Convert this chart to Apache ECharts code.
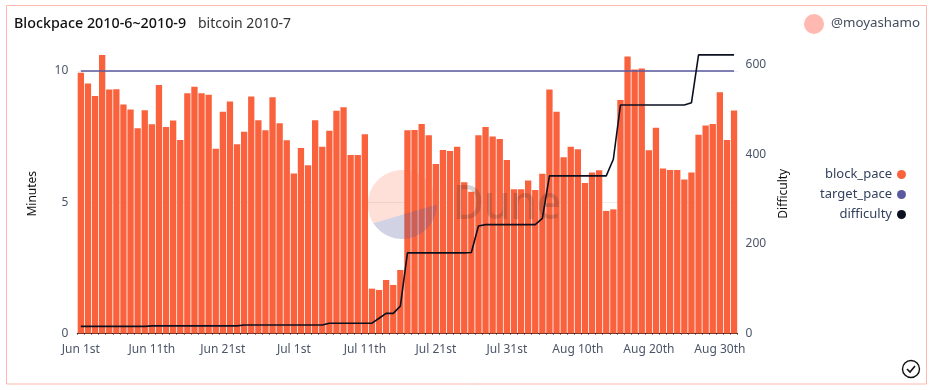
<!DOCTYPE html>
<html><head><meta charset="utf-8">
<style>html,body{margin:0;padding:0;background:#fff}#c{width:934px;height:390px}</style>
<script src="https://cdn.jsdelivr.net/npm/echarts@6/dist/echarts.min.js"></script>
</head><body><div id="c"></div>
<script>
const categories = [
"Jun 1st","Jun 2nd","Jun 3rd","Jun 4th","Jun 5th","Jun 6th","Jun 7th","Jun 8th","Jun 9th","Jun 10th",
"Jun 11th","Jun 12th","Jun 13th","Jun 14th","Jun 15th","Jun 16th","Jun 17th","Jun 18th","Jun 19th","Jun 20th",
"Jun 21st","Jun 22nd","Jun 23rd","Jun 24th","Jun 25th","Jun 26th","Jun 27th","Jun 28th","Jun 29th","Jun 30th",
"Jul 1st","Jul 2nd","Jul 3rd","Jul 4th","Jul 5th","Jul 6th","Jul 7th","Jul 8th","Jul 9th","Jul 10th",
"Jul 11th","Jul 12th","Jul 13th","Jul 14th","Jul 15th","Jul 16th","Jul 17th","Jul 18th","Jul 19th","Jul 20th",
"Jul 21st","Jul 22nd","Jul 23rd","Jul 24th","Jul 25th","Jul 26th","Jul 27th","Jul 28th","Jul 29th","Jul 30th",
"Jul 31st","Aug 1st","Aug 2nd","Aug 3rd","Aug 4th","Aug 5th","Aug 6th","Aug 7th","Aug 8th","Aug 9th",
"Aug 10th","Aug 11th","Aug 12th","Aug 13th","Aug 14th","Aug 15th","Aug 16th","Aug 17th","Aug 18th","Aug 19th",
"Aug 20th","Aug 21st","Aug 22nd","Aug 23rd","Aug 24th","Aug 25th","Aug 26th","Aug 27th","Aug 28th","Aug 29th",
"Aug 30th","Aug 31st","Sep 1st"];
const blockPace = [
9.94,9.53,9.05,10.61,9.30,9.31,8.73,8.54,7.82,8.51,
7.97,9.47,7.87,8.12,7.37,9.15,9.40,9.15,9.10,7.04,
8.45,8.84,7.21,7.69,9.03,8.13,7.74,9.00,8.01,7.36,
6.10,7.07,6.41,8.13,7.12,7.73,8.49,8.62,6.80,6.80,
7.59,1.71,1.66,2.04,1.85,2.42,7.74,7.75,7.98,7.55,
6.46,6.99,6.95,7.12,5.76,5.40,7.55,7.87,7.51,7.41,
6.61,5.50,5.50,5.83,5.47,6.09,9.30,8.45,6.72,7.12,
7.02,5.73,6.13,6.22,4.67,4.73,8.90,10.55,10.06,10.10,
6.98,7.84,6.29,6.23,6.23,5.87,6.13,7.57,7.93,7.98,
9.19,7.37,8.50];
const targetPace = [
10,10,10,10,10,10,10,10,10,10,
10,10,10,10,10,10,10,10,10,10,
10,10,10,10,10,10,10,10,10,10,
10,10,10,10,10,10,10,10,10,10,
10,10,10,10,10,10,10,10,10,10,
10,10,10,10,10,10,10,10,10,10,
10,10,10,10,10,10,10,10,10,10,
10,10,10,10,10,10,10,10,10,10,
10,10,10,10,10,10,10,10,10,10,
10,10,10];
const difficulty = [
16,16,16,16,16,16,16,16,16,16,
17,17,17,17,17,17,17,17,17,17,
17,17,17,19,19,19,19,19,19,19,
19,19,19,19,19,23,23,23,23,23,
23,23,34,45,45,61,180,180,180,180,
180,180,180,180,180,181,240,243,243,243,
243,243,243,243,243,257,352,352,352,352,
352,352,352,352,352,389,510,510,510,510,
510,510,510,510,510,510,515,622,622,622,
622,622,622];
const FONT = '"Noto Sans", sans-serif';
const SLATE = '#4a5568';
function arcPoints(cx, cy, r, fromDeg, toDeg, steps){
  const out = [];
  for (let k = 0; k <= steps; k++){
    const a = (fromDeg + (toDeg - fromDeg) * k / steps) * Math.PI / 180;
    out.push([cx + r * Math.cos(a), cy + r * Math.sin(a)]);
  }
  return out;
}
const chart = echarts.init(document.getElementById('c'), null, {renderer:'canvas'});
chart.setOption({
  animation:false,
  backgroundColor:'#fff',
  title:[
    {text:'Blockpace 2010-6~2010-9',left:14,top:17,padding:0,textStyle:{fontFamily:FONT,fontSize:14.3,fontWeight:500,color:'#111'}},
    {text:'bitcoin 2010-7',left:198,top:17,padding:0,textStyle:{fontFamily:FONT,fontSize:14,fontWeight:400,color:'#333'}},
    {text:'@moyashamo',right:14,top:17,padding:0,textStyle:{fontFamily:FONT,fontSize:13.3,fontWeight:400,color:'#434d5c'}}
  ],
  grid:{left:77.3,right:196.4,top:54,bottom:56.5,containLabel:false},
  legend:{
    orient:'vertical',right:28,top:168,align:'right',itemWidth:9,itemHeight:9,itemGap:7,
    icon:'circle',padding:0,
    textStyle:{fontFamily:FONT,fontSize:13,color:'#33415c'},
    data:['block_pace','target_pace','difficulty']
  },
  xAxis:{
    type:'category',data:categories,boundaryGap:true,
    axisLine:{show:true,lineStyle:{color:'#111',width:1}},
    axisTick:{show:true,interval:0,length:1,lineStyle:{color:'#111'}},
    axisLabel:{interval:9,margin:10,fontFamily:FONT,fontSize:12,color:SLATE,hideOverlap:false}
  },
  yAxis:[
    {type:'value',min:0,max:10.65,interval:5,name:'Minutes',nameLocation:'middle',nameGap:39,
     nameTextStyle:{fontFamily:FONT,fontSize:12,color:'#111'},
     axisLine:{show:false},axisTick:{show:false},
     axisLabel:{showMaxLabel:false,fontFamily:FONT,fontSize:12,color:SLATE,margin:9},
     splitLine:{show:true,showMaxLine:false,lineStyle:{color:'#eeeeee',width:1}}},
    {type:'value',min:0,max:624,interval:200,name:'Difficulty',nameLocation:'middle',nameGap:39,
     nameTextStyle:{fontFamily:FONT,fontSize:12,color:'#111'},
     axisLine:{show:false},axisTick:{show:false},
     axisLabel:{showMaxLabel:false,fontFamily:FONT,fontSize:12,color:SLATE,margin:8},
     splitLine:{show:false}}
  ],
  series:[
    {name:'block_pace',type:'bar',data:blockPace,barWidth:6.3,itemStyle:{color:'#f9623d'},z:2},
    {name:'target_pace',type:'line',data:targetPace,showSymbol:false,symbol:'none',lineStyle:{color:'#5a5a9e',width:1.5},itemStyle:{color:'#5a5a9e'},z:3},
    {name:'difficulty',type:'line',yAxisIndex:1,data:difficulty,showSymbol:false,symbol:'none',lineStyle:{color:'#0b1020',width:1.6},itemStyle:{color:'#0b1020'},z:4}
  ],
  graphic:[
    {type:'rect',z:0,silent:true,shape:{x:6.5,y:5.5,width:920,height:378.5},style:{fill:'none',stroke:'#ffb9b0',lineWidth:1}},
    {type:'circle',z:10,silent:true,shape:{cx:814,cy:24,r:10},style:{fill:'#ffb9b0'}},
    {type:'polygon',z:20,silent:true,shape:{points:arcPoints(402.3,204.5,34.5,147,360,60)},style:{fill:'rgba(249,98,61,0.2)'}},
    {type:'polygon',z:20,silent:true,shape:{points:arcPoints(402.3,204.5,34.5,147,0,40)},style:{fill:'rgba(90,90,158,0.27)'}},
    {type:'text',z:20,silent:true,x:453,y:181,scaleX:0.88,style:{text:'Dune',fontFamily:FONT,fontSize:48,fontWeight:500,fill:'rgba(40,40,40,0.2)'}},
    {type:'circle',z:10,silent:true,shape:{cx:911,cy:369,r:8.5},style:{fill:'none',stroke:'#111',lineWidth:1.4}},
    {type:'polyline',z:10,silent:true,shape:{points:[[907,369],[910,372],[915,366]]},style:{fill:'none',stroke:'#111',lineWidth:1.6}}
  ]
});
</script></body></html>
